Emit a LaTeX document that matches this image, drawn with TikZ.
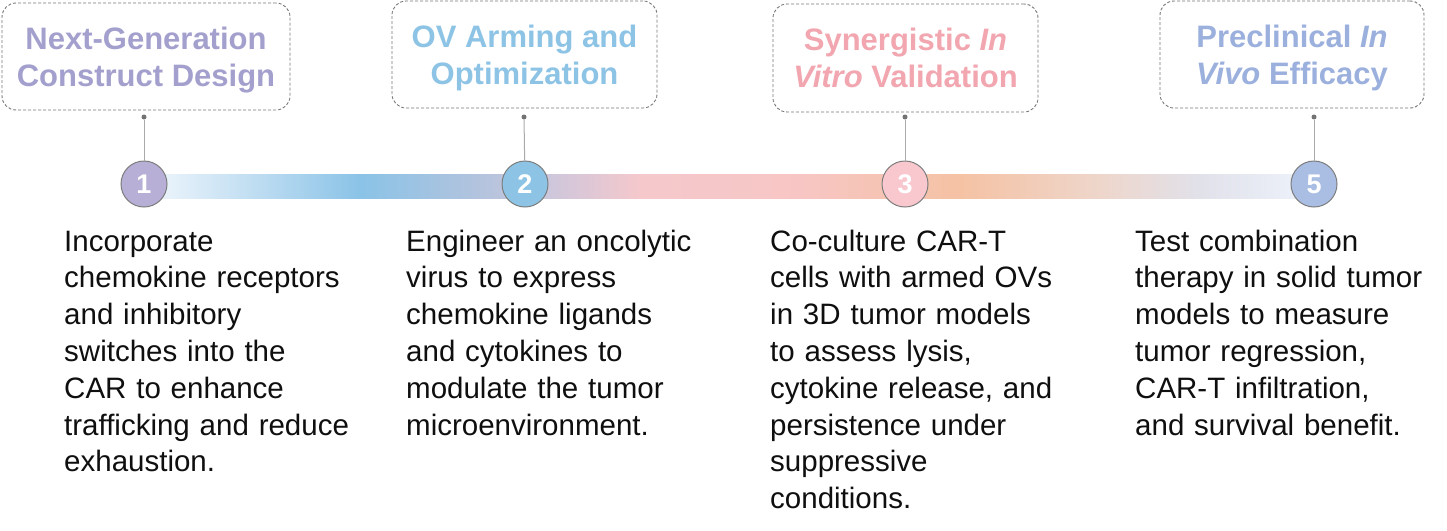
\documentclass[tikz,border=0pt]{standalone}
\usepackage{fontspec}
\setmainfont{Liberation Sans}
\definecolor{tone}{RGB}{163,160,206}
\definecolor{ttwo}{RGB}{141,196,229}
\definecolor{tthree}{RGB}{242,166,176}
\definecolor{tfive}{RGB}{155,176,221}
\definecolor{fone}{RGB}{183,175,214}
\definecolor{ftwo}{RGB}{141,196,230}
\definecolor{fthree}{RGB}{248,200,206}
\definecolor{ffive}{RGB}{170,190,228}
\definecolor{boxgray}{RGB}{120,120,120}
\definecolor{numgray}{RGB}{125,125,125}
\definecolor{pingray}{RGB}{115,115,115}
\definecolor{stemgray}{RGB}{170,170,170}
\definecolor{bodytext}{RGB}{15,15,15}
\definecolor{ga}{RGB}{230,241,250}
\definecolor{gb}{RGB}{193,222,242}
\definecolor{gc}{RGB}{138,195,231}
\definecolor{gd}{RGB}{176,195,222}
\definecolor{ge}{RGB}{205,199,220}
\definecolor{gf}{RGB}{245,200,204}
\definecolor{gg}{RGB}{247,198,196}
\definecolor{gh}{RGB}{245,194,164}
\definecolor{gi}{RGB}{238,214,203}
\definecolor{gj}{RGB}{225,225,234}
\definecolor{gk}{RGB}{238,243,251}
\begin{document}
\begin{tikzpicture}[x=1pt,y=-1pt,
  titlebox/.style={draw=boxgray, dash pattern=on 3pt off 2pt, rounded corners=14pt,
    line width=0.9pt, align=center, inner sep=0, text depth=0pt,
    font=\bfseries\fontsize{31}{37}\selectfont},
  stepnum/.style={circle, draw=numgray, line width=1pt, minimum size=46pt, inner sep=0,
    text=white, font=\bfseries\fontsize{27}{30}\selectfont},
  pindot/.style={circle, fill=pingray, minimum size=5pt, inner sep=0},
  stem/.style={draw=stemgray, line width=1pt},
  body/.style={anchor=base west, align=left, inner sep=0, text width=360pt,
    font=\fontsize{29.5}{36.8}\selectfont, text=bodytext}]
\useasboundingbox (0,0) rectangle (1447,530);
\fill[white] (0,0) rectangle (1447,530);

% gradient bar
\shade[left color=ga, right color=ga] (144,174) rectangle (170.5,198);
\shade[left color=ga, right color=gb] (170,174) rectangle (250.5,198);
\shade[left color=gb, right color=gc] (250,174) rectangle (360.5,198);
\shade[left color=gc, right color=gd] (360,174) rectangle (470.5,198);
\shade[left color=gd, right color=ge] (470,174) rectangle (548.5,198);
\shade[left color=ge, right color=gf] (548,174) rectangle (640.5,198);
\shade[left color=gf, right color=gg] (640,174) rectangle (800.5,198);
\shade[left color=gg, right color=gh] (800,174) rectangle (960.5,198);
\shade[left color=gh, right color=gi] (960,174) rectangle (1100.5,198);
\shade[left color=gi, right color=gj] (1100,174) rectangle (1200.5,198);
\shade[left color=gj, right color=gk] (1200,174) rectangle (1314,198);

% title boxes
\node[titlebox, text=tone, minimum width=288pt, minimum height=107pt] (b1) at (146,56.5)
  {Next-Generation\\Construct Design};
\node[titlebox, text=ttwo, minimum width=265pt, minimum height=107pt] (b2) at (524.5,54.5)
  {OV Arming and\\Optimization};
\node[titlebox, text=tthree, minimum width=265pt, minimum height=108pt] (b3) at (905.5,58)
  {Synergistic \textit{In}\\\textit{Vitro} Validation};
\node[titlebox, text=tfive, minimum width=264pt, minimum height=107pt] (b5) at (1292,54.5)
  {Preclinical \textit{In}\\\textit{Vivo} Efficacy};

% step circles
\node[stepnum, fill=fone] (c1) at (144,184) {1};
\node[stepnum, fill=ftwo] (c2) at (525,184) {2};
\node[stepnum, fill=fthree] (c3) at (905,184) {3};
\node[stepnum, fill=ffive] (c5) at (1314,184) {5};

% pins and stems
\node[pindot] (d1) at (144,117) {};
\node[pindot] (d2) at (524,117) {};
\node[pindot] (d3) at (905,117) {};
\node[pindot] (d5) at (1314,117) {};
\draw[stem] (d1) -- (c1);
\draw[stem] (d2) -- (c2);
\draw[stem] (d3) -- (c3);
\draw[stem] (d5) -- (c5);

% descriptions
\node[body] (t1) at (64,251) {Incorporate\\chemokine receptors\\and inhibitory\\switches into the\\CAR to enhance\\trafficking and reduce\\exhaustion.};
\node[body] (t2) at (406,251) {Engineer an oncolytic\\virus to express\\chemokine ligands\\and cytokines to\\modulate the tumor\\microenvironment.};
\node[body] (t3) at (770,251) {Co-culture CAR-T\\cells with armed OVs\\in 3D tumor models\\to assess lysis,\\cytokine release, and\\persistence under\\suppressive\\conditions.};
\node[body] (t5) at (1135,251) {Test combination\\therapy in solid tumor\\models to measure\\tumor regression,\\CAR-T infiltration,\\and survival benefit.};
\end{tikzpicture}
\end{document}
